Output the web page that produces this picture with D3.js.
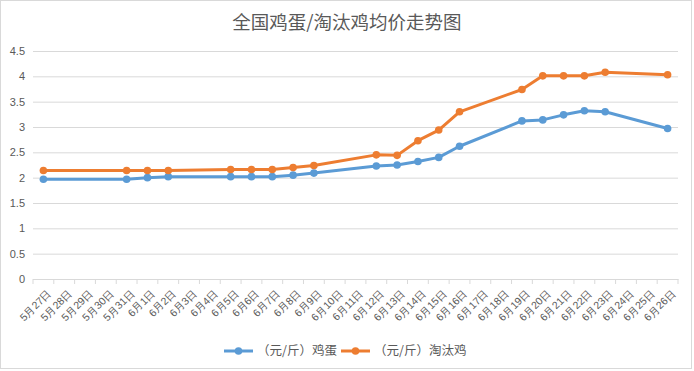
<!DOCTYPE html>
<html lang="zh">
<head>
<meta charset="utf-8">
<title>全国鸡蛋/淘汰鸡均价走势图</title>
<script src="https://d3js.org/d3.v7.min.js"></script>
<style>
  body { margin: 0; background: #fff; }
  svg { display: block; font-family: "Noto Sans CJK SC", "Noto Sans", sans-serif; }
  .axis text { fill: #595959; }
</style>
</head>
<body>
<svg width="694" height="371"></svg>
<script>
// all x-axis categories
const days = ["5月27日","5月28日","5月29日","5月30日","5月31日",
  "6月1日","6月2日","6月3日","6月4日","6月5日","6月6日","6月7日","6月8日","6月9日","6月10日",
  "6月11日","6月12日","6月13日","6月14日","6月15日","6月16日","6月17日","6月18日","6月19日","6月20日",
  "6月21日","6月22日","6月23日","6月24日","6月25日","6月26日"];

// days that have a price
const priceDays = ["5月27日","5月31日","6月1日","6月2日","6月5日","6月6日","6月7日","6月8日","6月9日",
  "6月12日","6月13日","6月14日","6月15日","6月16日","6月19日","6月20日","6月21日","6月22日","6月23日","6月26日"];

const eggPrice = [1.97,1.97,2.00,2.02,2.02,2.02,2.02,2.05,2.09,2.23,2.25,2.32,2.40,2.62,3.12,3.14,3.24,3.32,3.30,2.97];
const henPrice = [2.14,2.14,2.14,2.14,2.16,2.16,2.16,2.20,2.24,2.45,2.44,2.73,2.94,3.30,3.74,4.01,4.01,4.01,4.08,4.03];

const yTicks = [0,0.5,1,1.5,2,2.5,3,3.5,4,4.5];

const series = [
  {name: "（元/斤）鸡蛋", values: eggPrice, color: "#5B9BD5"},
  {name: "（元/斤）淘汰鸡", values: henPrice, color: "#ED7D31"}
];

const plotLeft = 33, plotRight = 678, plotTop = 51, plotBottom = 279;

const svg = d3.select("svg");

// chart border
svg.append("rect")
  .attr("x", 0.5).attr("y", 0.5)
  .attr("width", 691).attr("height", 368)
  .attr("fill", "#fff")
  .attr("stroke", "#d9d9d9");

const x = d3.scaleBand().domain(days).range([plotLeft, plotRight]);
const y = d3.scaleLinear().domain([0, 4.5]).range([plotBottom, plotTop]);

// title
svg.append("text")
  .attr("x", 347).attr("y", 29)
  .attr("text-anchor", "middle")
  .attr("font-size", "18.5px")
  .attr("fill", "#595959")
  .text("全国鸡蛋/淘汰鸡均价走势图");

// gridlines + y labels
const yAxis = svg.append("g")
  .attr("class", "axis")
  .attr("transform", "translate(" + plotLeft + ",0)")
  .call(d3.axisLeft(y).tickValues(yTicks).tickFormat(d3.format("")).tickSize(-(plotRight - plotLeft)).tickPadding(8));
yAxis.select(".domain").remove();
yAxis.selectAll("line").attr("stroke", "#d9d9d9");
yAxis.selectAll("text").attr("font-size", "11px");

// x axis
const xAxis = svg.append("g")
  .attr("class", "axis")
  .attr("transform", "translate(0," + plotBottom + ")")
  .call(d3.axisBottom(x).tickSize(0));
xAxis.select(".domain").attr("stroke", "#d9d9d9");
xAxis.selectAll(".tick line").remove();

// tick marks at band edges
xAxis.selectAll(".edge")
  .data(days.concat(["end"]))
  .join("line")
  .attr("class", "edge")
  .attr("x1", (d, i) => plotLeft + i * x.bandwidth())
  .attr("x2", (d, i) => plotLeft + i * x.bandwidth())
  .attr("y1", 0).attr("y2", 5)
  .attr("stroke", "#d9d9d9");

xAxis.selectAll(".tick text")
  .attr("font-size", "10.5px")
  .attr("text-anchor", "end")
  .attr("dy", "0.35em")
  .attr("transform", "translate(4,10) rotate(-45)");

// lines and markers
const line = d3.line()
  .x((d, i) => x(priceDays[i]) + x.bandwidth() / 2)
  .y(d => y(d));

series.forEach(s => {
  svg.append("path")
    .attr("d", line(s.values))
    .attr("fill", "none")
    .attr("stroke", s.color)
    .attr("stroke-width", 3)
    .attr("stroke-linejoin", "round");

  svg.append("g").selectAll("circle")
    .data(s.values)
    .join("circle")
    .attr("cx", (d, i) => x(priceDays[i]) + x.bandwidth() / 2)
    .attr("cy", d => y(d))
    .attr("r", 3.8)
    .attr("fill", s.color);
});

// legend
const legendX = [224, 341];
const legend = svg.append("g").attr("transform", "translate(0,351)");
series.forEach((s, i) => {
  const g = legend.append("g").attr("transform", "translate(" + legendX[i] + ",0)");
  g.append("line")
    .attr("x1", 0).attr("x2", 29)
    .attr("stroke", s.color).attr("stroke-width", 3);
  g.append("circle").attr("cx", 14.5).attr("r", 3.8).attr("fill", s.color);
  g.append("text")
    .attr("x", 33).attr("dy", "0.35em")
    .attr("font-size", "12.5px")
    .attr("fill", "#595959")
    .text(s.name);
});
</script>
</body>
</html>
